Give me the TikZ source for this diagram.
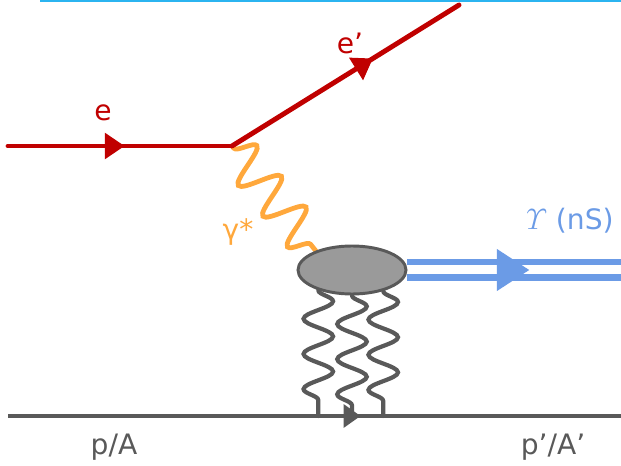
\documentclass[tikz,border=0pt]{standalone}
\usepackage{amsmath}
\usepackage{fontspec}
\setmainfont{DejaVu Sans}
\usetikzlibrary{decorations.pathmorphing,decorations.markings,shapes.geometric,backgrounds}

\definecolor{ered}{HTML}{C00000}
\definecolor{gorange}{HTML}{FFA83C}
\definecolor{dgray}{HTML}{595959}
\definecolor{bgray}{HTML}{9A9A9A}
\definecolor{ublue}{HTML}{6B9BE6}
\definecolor{fcyan}{HTML}{2BB4F0}

\tikzset{
  midarrow/.style n args={3}{postaction={decorate,decoration={markings,
      mark=at position #1 with {\fill (0pt,0pt) -- (-#2,#3) -- (-#2,-#3) -- cycle;}}}},
  electron/.style={color=ered, line width=3.5pt, line cap=round},
  nucleon/.style={color=dgray, line width=2.8pt},
  photon/.style={color=gorange, line width=3.4pt, line cap=round,
      decorate, decoration={snake, segment length=28pt, amplitude=14pt, pre length=2pt, post length=2pt}},
  gluon/.style={color=dgray, line width=3pt, line cap=round,
      decorate, decoration={snake, segment length=25pt, amplitude=10.5pt, post length=2pt}},
  meson/.style={color=ublue, line width=4.3pt, double=white, double distance=6.4pt},
  blob/.style={ellipse, draw=dgray, fill=bgray, line width=2.1pt,
      minimum width=2.7cm, minimum height=1.2cm, inner sep=0pt},
}

\begin{document}
\begin{tikzpicture}[x=0.025cm, y=-0.025cm, font=\fontsize{20}{24}\selectfont]
\useasboundingbox (0,0) rectangle (621,466);

% Frame line at the top
\draw[fcyan, line width=1.2pt] (40,1) -- (621,1);

% Vertices and ends
\coordinate (ein) at (8,146);
\coordinate (vtx) at (232,146);
\coordinate (eout) at (459,5);
\node[blob] (blob) at (352,270) {};
\coordinate (uout) at (621,270);
\coordinate (pin) at (8,416);
\coordinate (pout) at (621,416);

% Electron
\draw[electron, midarrow={0.52}{14pt}{9.5pt}] (ein) -- (vtx);
\draw[electron, midarrow={0.62}{14pt}{9.5pt}] (vtx) -- (eout);

% Virtual photon and gluon ladder
\begin{scope}[on background layer]
\draw[photon] (vtx) -- (blob.152);
\draw[gluon] (blob.211) -- (blob.211 |- pin);
\draw[gluon] (blob.south) -- (blob.south |- pin);
\draw[gluon] (blob.-34) -- (blob.-34 |- pin);
\draw[meson] (blob.east) -- (uout);
\end{scope}
\path[midarrow={0.57}{23pt}{15pt}, ublue] (blob.east) -- (uout);

% Proton / nucleus
\draw[nucleon, midarrow={0.575}{12pt}{8.5pt}] (pin) -- (pout);

% Labels
\node[ered] (elab) at (103,113) {e};
\node[ered] (eplab) at (350,43) {e’};
\node[gorange] (glab) at (238,232) {γ*};
\node[ublue] (ulab) at (570,221) {$\varUpsilon$ (nS)};
\node[dgray] (plab) at (114,447) {p/A};
\node[dgray] (pplab) at (553,447) {p’/A’};
\end{tikzpicture}
\end{document}
